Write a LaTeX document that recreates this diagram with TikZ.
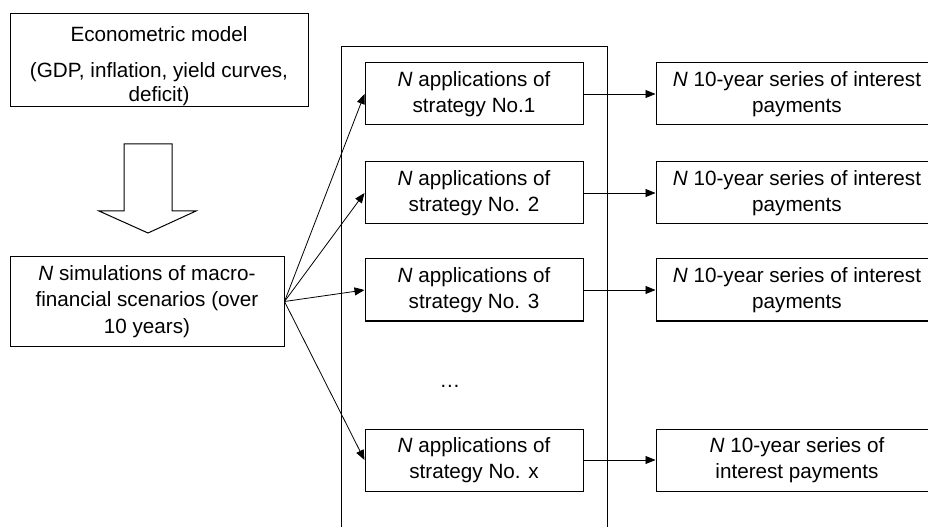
\documentclass[tikz,border=0pt]{standalone}
\usepackage{fontspec}
\setmainfont{Liberation Sans}
\usetikzlibrary{arrows.meta, positioning}

\begin{document}
\begin{tikzpicture}[x=0.75pt, y=-0.75pt,
    box/.style={draw, line width=0.75pt, align=center, inner sep=0pt,
        font=\fontsize{15.5}{19.75}\selectfont},
    stratbox/.style={box, minimum width=163.5pt, minimum height=46.5pt},
    paybox/.style={box, minimum width=211.5pt, minimum height=46.5pt},
    arr/.style={-{Triangle[length=7.5pt, width=6pt]}, line width=0.6pt}]
                \useasboundingbox (0,0) rectangle (928,527);
                \clip (0,0) rectangle (928,527);
                % left column
                \node (econ) at (159,60.5) [box, minimum width=223.5pt, minimum height=69.75pt]
                    {\rule{0pt}{20pt}Econometric model\\[7.25pt](GDP, inflation, yield curves,\\[-1.75pt]deficit)};
                \node (sim) at (147,301.5) [box, minimum width=205.5pt, minimum height=66.75pt]
                    {\textit{N} simulations of macro-\\financial scenarios (over\\10 years)};
                \draw[line width=0.75pt] (124,144) -- (172,144) -- (172,211) -- (196,211)
                    -- (148,233) -- (99,211) -- (124,211) -- cycle;
                % strategies
                \draw[line width=0.75pt] (341,47) rectangle (607,540);
                \node (s1) at (474,94) [stratbox] {\textit{N} applications of\\strategy No.1};
                \node (s2) [below=27pt of s1, stratbox] {\textit{N} applications of\\strategy No. 2};
                \node (s3) [below=25.5pt of s2, stratbox] {\textit{N} applications of\\strategy No. 3};
                \node (sx) [below=80.25pt of s3, stratbox] {\textit{N} applications of\\strategy No. x};
                \node (dots) at (450,386) [font=\fontsize{15.5}{19.75}\selectfont] {…};
                % interest payments
                \node (p1) [right=54pt of s1, paybox] {\textit{N} 10-year series of interest\\payments};
                \node (p2) [right=54pt of s2, paybox] {\textit{N} 10-year series of interest\\payments};
                \node (p3) [right=54pt of s3, paybox] {\textit{N} 10-year series of interest\\payments};
                \node (px) [right=54pt of sx, paybox] {\textit{N} 10-year series of\\interest payments};
                \draw[arr] (sim.east) -- (s1.west);
                \draw[arr] (sim.east) -- (s2.west);
                \draw[arr] (sim.east) -- (s3.west);
                \draw[arr] (sim.east) -- (sx.west);
                \draw[arr] (s1) -- (p1);
                \draw[arr] (s2) -- (p2);
                \draw[arr] (s3) -- (p3);
                \draw[arr] (sx) -- (px);
            \end{tikzpicture}
\end{document}
